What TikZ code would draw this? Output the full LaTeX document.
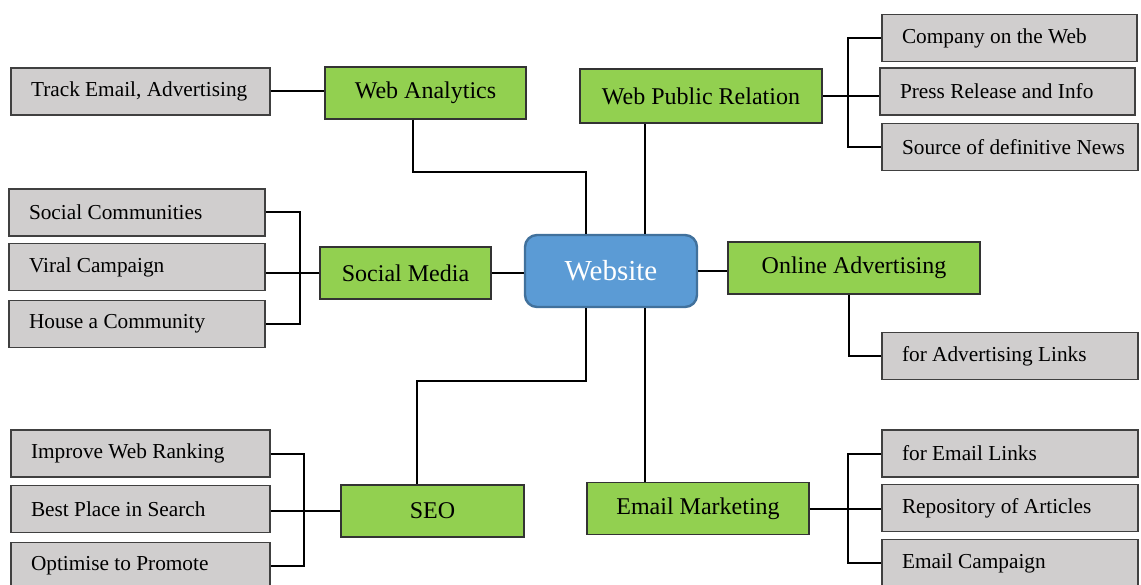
\documentclass[tikz,border=0pt]{standalone}
\usepackage{fontspec}
\setmainfont{Liberation Serif}

\definecolor{boxgray}{HTML}{D0CECE}
\definecolor{leafgreen}{HTML}{92D050}
\definecolor{hubblue}{HTML}{5B9BD5}
\definecolor{hubedge}{HTML}{41719C}

\begin{document}
\begin{tikzpicture}[x=1pt,y=-1pt,line width=2pt]
  \tikzset{item/.style={draw=black!75,line width=1.2pt,fill=boxgray,minimum height=47pt,inner xsep=20pt,text width=#1,align=flush left,font=\fontsize{21.3}{25}\selectfont},item/.default=219pt,
    topic/.style={draw=black!80,line width=1.2pt,fill=leafgreen,minimum height=52pt,font=\fontsize{24}{28}\selectfont},
    hub/.style={draw=hubedge,line width=2.4pt,fill=hubblue,rounded corners=12pt,text=white,minimum width=172pt,minimum height=72pt,font=\fontsize{29}{34}\selectfont}}
  \useasboundingbox (0,0) rectangle (1141,585);
  \clip (0,0) rectangle (1141,585);

  \node[hub] (web) at (611,271) {Website};
  \node[topic,minimum width=201pt] (analytics) at (425.5,93)  {Web Analytics};
  \node[topic,minimum width=242pt,minimum height=54pt] (pr) at (701,96) {Web Public Relation};
  \node[topic,minimum width=171pt] (social)    at (405.5,273) {Social Media};
  \node[topic,minimum width=252pt] (online)    at (854,268)   {Online Advertising};
  \node[topic,minimum width=183pt] (seo)       at (432.5,511) {SEO};
  \node[topic,minimum width=222pt] (emailmkt)  at (698,508.5) {Email Marketing};

  \node[item]       (track)      at (140.5,91.5) {\mbox{Track Email, Advertising}};
  \node[item=216pt] (soccom)     at (137,212.5)  {Social Communities};
  \node[item=216pt] (viral)      at (137,267)    {Viral Campaign};
  \node[item=216pt] (house)      at (137,324)    {House a Community};
  \node[item]       (improve)    at (140.5,453.5) {Improve Web Ranking};
  \node[item]       (best)       at (140.5,509)  {Best Place in Search};
  \node[item]       (optimise)   at (140.5,566)  {Optimise to Promote};
  \node[item=215pt] (company)    at (1009.5,38)  {Company on the Web};
  \node[item=215pt] (press)      at (1007.5,91.5) {Press Release and Info};
  \node[item=216pt] (source)     at (1010,147)   {\mbox{Source of definitive News}};
  \node[item=216pt] (adlinks)    at (1010,356)   {for Advertising Links};
  \node[item=216pt] (emaillinks) at (1010,453.5) {for Email Links};
  \node[item=216pt] (repo)       at (1010,508)   {Repository of Articles};
  \node[item=216pt] (campaign)   at (1010,563)   {Email Campaign};

  % links to the hub
  \coordinate (topB) at ([xshift=34pt]web.north);
  \coordinate (botB) at ([xshift=34pt]web.south);
  \draw ([xshift=-12.5pt]analytics.south) -- ++(0,52) -| ([xshift=-25pt]web.north);
  \draw (topB) -- (topB |- pr.south);
  \draw (social.east) -- (social.east -| web.west);
  \draw (web.east) -- (web.east -| online.west);
  \draw ([xshift=-25pt]web.south) -- ++(0,73) -| ([xshift=-15.5pt]seo.north);
  \draw (botB) -- (botB |- emailmkt.north);

  % leaves
  \draw (track.east) -- (track.east -| analytics.west);
  \draw (company.west) -- ++(-33,0) |- (source.west);
  \draw (pr.east) -- (pr.east -| press.west);
  \draw (soccom.east) -- ++(34,0) |- (house.east);
  \draw (social.west) -- (social.west -| viral.east);
  \draw ([xshift=-5.5pt]online.south) |- (adlinks.west);
  \draw (improve.east) -- ++(33,0) |- (optimise.east);
  \draw (seo.west) -- (seo.west -| best.east);
  \draw (emaillinks.west) -- ++(-33,0) |- (campaign.west);
  \draw (emailmkt.east) -- (emailmkt.east -| repo.west);
\end{tikzpicture}
\end{document}
